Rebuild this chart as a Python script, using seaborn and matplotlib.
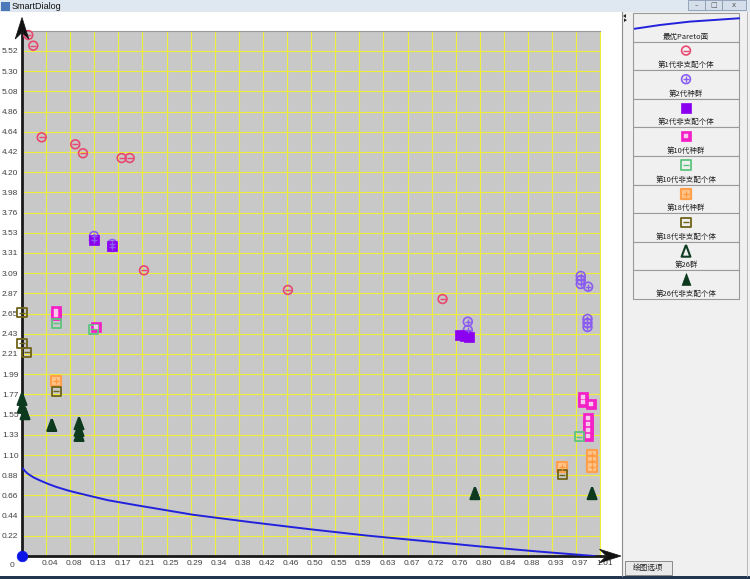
import matplotlib
matplotlib.use("Agg")
import matplotlib.pyplot as plt
import seaborn as sns
from matplotlib.patches import Polygon, Rectangle
from matplotlib.transforms import ScaledTranslation

# axis ranges and tick labels
x_max = 1.0104
y_max = 5.743
x_tick_labels = ['0.04', '0.08', '0.13', '0.17', '0.21', '0.25', '0.29', '0.34', '0.38', '0.42',
                 '0.46', '0.50', '0.55', '0.59', '0.63', '0.67', '0.72', '0.76', '0.80', '0.84',
                 '0.88', '0.93', '0.97', '1.01']
y_tick_labels = ['0.22', '0.44', '0.66', '0.88', '1.10', '1.33', '1.55', '1.77', '1.99', '2.21',
                 '2.43', '2.65', '2.87', '3.09', '3.31', '3.53', '3.76', '3.98', '4.20', '4.42',
                 '4.64', '4.86', '5.08', '5.30', '5.52']

# best pareto front
pareto_x = [0.002, 0.005, 0.01, 0.02, 0.03, 0.045, 0.06, 0.08, 0.10, 0.13, 0.15, 0.20, 0.30,
            0.40, 0.50, 0.60, 0.70, 0.80, 0.90, 1.00]
pareto_y = [0.955, 0.93, 0.90, 0.86, 0.83, 0.79, 0.755, 0.717, 0.685, 0.64, 0.61, 0.555, 0.45,
            0.37, 0.295, 0.225, 0.165, 0.105, 0.05, 0.0]

origin_x = [0.0]
origin_y = [0.0]

gen1_nd_x = [0.0110, 0.0197, 0.0344, 0.0931, 0.1065, 0.1741, 0.1881, 0.2131, 0.4646, 0.7348]
gen1_nd_y = [5.697, 5.580, 4.578, 4.502, 4.404, 4.352, 4.352, 3.124, 2.909, 2.810]

gen2_pop_x = [0.1257, 0.1257, 0.1577, 0.1577, 0.7789, 0.7789, 0.9763, 0.9763, 0.9763, 0.9891,
              0.9880, 0.9880, 0.9880]
gen2_pop_y = [3.499, 3.455, 3.412, 3.379, 2.562, 2.471, 3.062, 3.018, 2.974, 2.945,
              2.592, 2.548, 2.504]

gen2_nd_x = [0.1257, 0.1577, 0.7650, 0.7737, 0.7807]
gen2_nd_y = [3.455, 3.390, 2.417, 2.406, 2.400]

gen10_pop_x = [0.0599, 0.0599, 0.1292, 0.9798, 0.9798, 0.9946, 0.9897, 0.9897, 0.9897, 0.9897]
gen10_pop_y = [2.679, 2.635, 2.507, 1.739, 1.687, 1.662, 1.509, 1.443, 1.378, 1.312]

gen10_nd_x = [0.0599, 0.1245, 0.9733]
gen10_nd_y = [2.545, 2.482, 1.305]

gen18_pop_x = [0.0599, 0.9443, 0.9964, 0.9964, 0.9964]
gen18_pop_y = [1.914, 0.977, 1.104, 1.039, 0.973]

gen18_nd_x = [0.0, 0.0, 0.0082, 0.0599, 0.9443]
gen18_nd_y = [2.661, 2.326, 2.227, 1.804, 0.886]

gen26_x = [0.0, 0.0005, 0.0052, 0.0519, 0.0996, 0.0996, 0.0996, 0.7912, 0.9960]
gen26_y = [1.717, 1.633, 1.560, 1.432, 1.451, 1.378, 1.323, 0.686, 0.686]

legend_labels = ['最优Pareto面', '第1代非支配个体', '第2代种群', '第2代非支配个体', '第10代种群',
                 '第10代非支配个体', '第18代种群', '第18代非支配个体', '第26群', '第26代非支配个体']

# slightly taller than wide triangle, like the java glyph (closed path)
tri = [(0, 1.2), (-0.9, -1.2), (0.9, -1.2), (0, 1.2)]

# marker styles: (marker, face, edge, lw, size, inner marker, inner colour, inner size)
styles = [
    ('o', 'none', '#e8476f', 1.2, 40, '_', '#e8476f', 14),
    ('o', 'none', '#8a5cf0', 1.2, 40, '+', '#8a5cf0', 18),
    ('s', '#8c00f0', '#8c00f0', 0.5, 45, None, None, 0),
    ('s', '#f41fc6', '#f41fc6', 0.5, 50, 's', '#f8c8ee', 5),
    ('s', 'none', '#5cc47f', 1.3, 42, '_', '#5cc47f', 16),
    ('s', '#ffc68e', '#ffa04c', 1.6, 45, '+', '#ff9a40', 22),
    ('s', 'none', '#6f6418', 1.3, 42, '_', '#6f6418', 16),
    (tri, 'none', '#0f3d22', 1.5, 72, None, None, 0),
    (tri, '#0d3a1e', '#0d3a1e', 0.5, 72, None, None, 0),
]
series = [(gen1_nd_x, gen1_nd_y), (gen2_pop_x, gen2_pop_y), (gen2_nd_x, gen2_nd_y),
          (gen10_pop_x, gen10_pop_y), (gen10_nd_x, gen10_nd_y), (gen18_pop_x, gen18_pop_y),
          (gen18_nd_x, gen18_nd_y), (gen26_x, gen26_y), (gen26_x, gen26_y)]

pareto_color = '#2222dd'
W, H = 750, 579


def draw_marks(ax, xs, ys, st, z=4):
    m, fc, ec, lw, s, im, ic, isz = st
    sns.scatterplot(x=xs, y=ys, ax=ax, marker=m, s=s, color=ec, facecolor=fc, edgecolor=ec,
                    linewidth=lw, zorder=z, clip_on=False, legend=False)
    if im is not None:
        if im == 's':
            sns.scatterplot(x=xs, y=ys, ax=ax, marker=im, s=isz, color=ic, edgecolor=ic,
                            linewidth=0.3, zorder=z + 0.1, clip_on=False, legend=False)
        else:
            sns.scatterplot(x=xs, y=ys, ax=ax, marker=im, s=isz, color=ic, linewidth=1.0,
                            zorder=z + 0.1, clip_on=False, legend=False)


plt.rcParams['font.family'] = ['Liberation Sans', 'Noto Sans CJK SC', 'DejaVu Sans']

fig = plt.figure(figsize=(W / 100, H / 100), dpi=100)
fig.patch.set_facecolor('white')

# main plot area in pixels: x 22..600.3, y 30.8..556
ax = fig.add_axes([22 / W, (H - 556) / H, 578.3 / W, 525.2 / H])
ax.set_facecolor('#c8c8c8')
ax.set_xlim(0, x_max)
ax.set_ylim(0, y_max)
x_step = x_max / 24
y_step = y_max / 26
ax.set_xticks([x_step * (i + 1) for i in range(len(x_tick_labels))], x_tick_labels)
ax.set_yticks([y_step * (i + 1) for i in range(len(y_tick_labels))], y_tick_labels)
ax.tick_params(axis='both', length=0, labelsize=6, labelcolor='#404040')
ax.tick_params(axis='x', pad=3.2)
ax.tick_params(axis='y', pad=14.4)
for lab in ax.get_yticklabels():
    lab.set_horizontalalignment('left')
shift = ScaledTranslation(4 / 100, 0, fig.dpi_scale_trans)
for lab in ax.get_xticklabels():
    lab.set_transform(lab.get_transform() + shift)
ax.grid(True, color='#eeee3a', linewidth=0.8)
ax.set_axisbelow(True)
ax.spines['left'].set_color('#1a1a1a')
ax.spines['left'].set_linewidth(2.0)
ax.spines['bottom'].set_color('#1a1a1a')
ax.spines['bottom'].set_linewidth(2.0)
ax.spines['top'].set_color('#9a9a9a')
ax.spines['top'].set_linewidth(0.8)
ax.spines['right'].set_color('#eeee3a')
ax.spines['right'].set_linewidth(0.8)

sns.lineplot(x=pareto_x, y=pareto_y, ax=ax, color=pareto_color, linewidth=1.4, sort=False,
             estimator=None, zorder=3)
for (xs, ys), st in zip(series, styles):
    draw_marks(ax, xs, ys, st)
sns.scatterplot(x=origin_x, y=origin_y, ax=ax, s=58, color='#0a14e6', edgecolor='#0a14e6',
                linewidth=0.5, zorder=6, clip_on=False, legend=False)
ax.set_xlabel('')
ax.set_ylabel('')

# window decoration, arrows and legend panel drawn in pixel space
deco = fig.add_axes([0, 0, 1, 1], zorder=10)
deco.set_xlim(0, W)
deco.set_ylim(H, 0)
deco.axis('off')

# title bar
deco.add_patch(Rectangle((0, 0), W, 12, facecolor='#dfe7f1', edgecolor='none'))
deco.add_patch(Rectangle((1, 1.5), 9, 9, facecolor='#4a78b8', edgecolor='none'))
deco.text(12, 6.3, 'SmartDialog', fontsize=6.5, va='center', ha='left', color='#111111')
for bx, bw, g in [(688, 17, '–'), (705, 17, '□'), (722, 24, 'x')]:
    deco.add_patch(Rectangle((bx, 0), bw, 9.5, facecolor='#d5dfeb', edgecolor='#8a9ab0', lw=0.6))
    deco.text(bx + bw / 2, 4.8, g, fontsize=5, ha='center', va='center', color='#555555',
              family=['DejaVu Sans'])

# taskbar strip at the bottom
deco.add_patch(Rectangle((0, 575.5), W, 4, facecolor='#22364f', edgecolor='none'))

# axis arrows
deco.plot([22, 22], [31, 33], color='#1a1a1a', lw=2.0, solid_capstyle='butt')
deco.add_patch(Polygon([(22, 17.5), (28.8, 39), (22, 32.5), (15.2, 39)], closed=True,
                       facecolor='#111111', edgecolor='#111111', lw=0.5))
deco.plot([600, 607], [556, 556], color='#1a1a1a', lw=2.0, solid_capstyle='butt')
deco.add_patch(Polygon([(621, 556), (599.5, 549.2), (606.5, 556), (599.5, 562.8)], closed=True,
                       facecolor='#111111', edgecolor='#111111', lw=0.5))
deco.text(12, 565.5, '0', fontsize=6, ha='center', va='center', color='#404040')

# right legend panel
deco.add_patch(Rectangle((622, 12), W - 622, 563.5, facecolor='#f0f0f0', edgecolor='none'))
deco.plot([621.5, 621.5], [12, 575.5], color='#8a8a8a', lw=0.8)
deco.plot([746.5, 746.5], [12, 575.5], color='#b0b0b0', lw=0.6)
deco.add_patch(Polygon([(623, 16), (626, 14), (626, 18)], closed=True, facecolor='#222222'))
deco.add_patch(Polygon([(627, 20), (624, 18.5), (624, 22)], closed=True, facecolor='#222222'))
item_h = 28.6
for i, label in enumerate(legend_labels):
    top = 13 + i * item_h
    deco.add_patch(Rectangle((633, top), 106, item_h, facecolor='#f0f0f0', edgecolor='#9a9a9a',
                             lw=0.8))
    deco.text(686, top + 23.5, label, fontsize=5.4, ha='center', va='center', color='#222222',
              family=['Noto Sans CJK SC', 'DejaVu Sans'])
    if i == 0:
        deco.plot([635, 660, 690, 739], [28.7, 25.0, 21.6, 18.3], color=pareto_color, lw=1.4)
    else:
        draw_marks(deco, [686], [top + 9], styles[i - 1], z=5)
deco.set_xlim(0, W)
deco.set_ylim(H, 0)

# options button
deco.add_patch(Rectangle((625, 561), 47, 14, facecolor='#e9e9e9', edgecolor='#8a8a8a', lw=0.7))
deco.text(648.5, 568, '绘图选项', fontsize=5.5, ha='center', va='center', color='#222222',
          family=['Noto Sans CJK SC', 'DejaVu Sans'])

fig.savefig('out.png', dpi=100)
